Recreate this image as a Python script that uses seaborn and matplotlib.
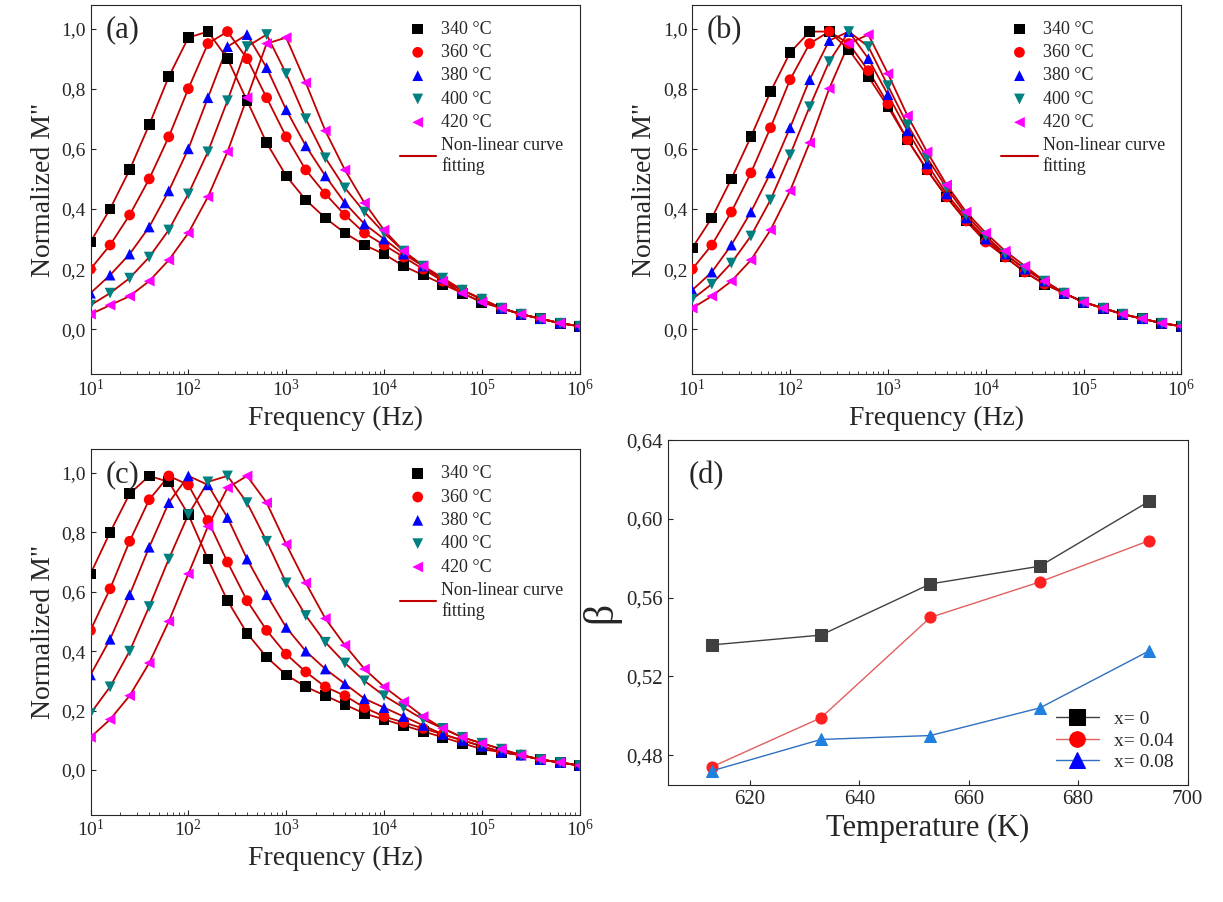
import numpy as np
import pandas as pd
import seaborn as sns
import matplotlib.pyplot as plt
from matplotlib.ticker import FuncFormatter, NullFormatter

sns.set_style("ticks")
plt.rcParams['font.family'] = ['Liberation Serif', 'DejaVu Serif']
plt.rcParams['mathtext.fontset'] = 'stix'

# log10 frequency grid of the read-off points
log_f = [1.0, 1.2, 1.4, 1.6, 1.8, 2.0, 2.2, 2.4, 2.6, 2.8, 3.0, 3.2, 3.4,
         3.6, 3.8, 4.0, 4.2, 4.4, 4.6, 4.8, 5.0, 5.2, 5.4, 5.6, 5.8, 6.0]
temps = ['340 °C', '360 °C', '380 °C', '400 °C', '420 °C']

a_340 = [0.29, 0.40, 0.53, 0.68, 0.84, 0.97, 0.99, 0.90, 0.76, 0.62, 0.51, 0.43, 0.37, 0.32, 0.28, 0.25, 0.21, 0.18, 0.15, 0.12, 0.09, 0.07, 0.05, 0.035, 0.02, 0.01]
a_360 = [0.20, 0.28, 0.38, 0.50, 0.64, 0.80, 0.95, 0.99, 0.90, 0.77, 0.64, 0.53, 0.45, 0.38, 0.32, 0.28, 0.24, 0.20, 0.16, 0.13, 0.10, 0.07, 0.05, 0.035, 0.02, 0.01]
a_380 = [0.12, 0.18, 0.25, 0.34, 0.46, 0.60, 0.77, 0.94, 0.98, 0.87, 0.73, 0.61, 0.51, 0.42, 0.35, 0.30, 0.25, 0.21, 0.17, 0.13, 0.10, 0.07, 0.05, 0.035, 0.02, 0.01]
a_400 = [0.08, 0.12, 0.17, 0.24, 0.33, 0.45, 0.59, 0.76, 0.94, 0.98, 0.85, 0.70, 0.57, 0.47, 0.39, 0.32, 0.26, 0.21, 0.17, 0.13, 0.10, 0.07, 0.05, 0.035, 0.02, 0.01]
a_420 = [0.05, 0.08, 0.11, 0.16, 0.23, 0.32, 0.44, 0.59, 0.77, 0.95, 0.97, 0.82, 0.66, 0.53, 0.42, 0.33, 0.26, 0.21, 0.16, 0.12, 0.09, 0.07, 0.05, 0.035, 0.02, 0.01]

b_340 = [0.27, 0.37, 0.50, 0.64, 0.79, 0.92, 0.99, 0.99, 0.93, 0.84, 0.74, 0.63, 0.53, 0.44, 0.36, 0.30, 0.24, 0.19, 0.15, 0.12, 0.09, 0.07, 0.05, 0.035, 0.02, 0.01]
b_360 = [0.20, 0.28, 0.39, 0.52, 0.67, 0.83, 0.95, 0.99, 0.95, 0.86, 0.75, 0.63, 0.53, 0.44, 0.36, 0.29, 0.24, 0.19, 0.15, 0.12, 0.09, 0.07, 0.05, 0.035, 0.02, 0.01]
b_380 = [0.13, 0.19, 0.28, 0.39, 0.52, 0.67, 0.83, 0.96, 0.99, 0.90, 0.78, 0.66, 0.55, 0.45, 0.37, 0.30, 0.25, 0.20, 0.16, 0.12, 0.09, 0.07, 0.05, 0.035, 0.02, 0.01]
b_400 = [0.10, 0.15, 0.22, 0.31, 0.43, 0.58, 0.74, 0.89, 0.99, 0.94, 0.81, 0.68, 0.57, 0.47, 0.38, 0.31, 0.25, 0.20, 0.16, 0.12, 0.09, 0.07, 0.05, 0.035, 0.02, 0.01]
b_420 = [0.07, 0.11, 0.16, 0.23, 0.33, 0.46, 0.62, 0.80, 0.95, 0.98, 0.85, 0.71, 0.59, 0.48, 0.39, 0.32, 0.26, 0.21, 0.16, 0.12, 0.09, 0.07, 0.05, 0.035, 0.02, 0.01]

c_340 = [0.66, 0.80, 0.93, 0.99, 0.97, 0.86, 0.71, 0.57, 0.46, 0.38, 0.32, 0.28, 0.25, 0.22, 0.19, 0.17, 0.15, 0.13, 0.11, 0.09, 0.07, 0.06, 0.05, 0.035, 0.025, 0.015]
c_360 = [0.47, 0.61, 0.77, 0.91, 0.99, 0.96, 0.84, 0.70, 0.57, 0.47, 0.39, 0.33, 0.28, 0.25, 0.21, 0.18, 0.16, 0.14, 0.12, 0.10, 0.08, 0.06, 0.05, 0.035, 0.025, 0.015]
c_380 = [0.32, 0.44, 0.59, 0.75, 0.90, 0.99, 0.96, 0.85, 0.71, 0.59, 0.48, 0.40, 0.34, 0.29, 0.24, 0.21, 0.18, 0.15, 0.12, 0.10, 0.08, 0.06, 0.05, 0.035, 0.025, 0.015]
c_400 = [0.19, 0.28, 0.40, 0.55, 0.71, 0.86, 0.97, 0.99, 0.90, 0.77, 0.63, 0.52, 0.43, 0.36, 0.30, 0.25, 0.21, 0.17, 0.14, 0.11, 0.09, 0.07, 0.05, 0.035, 0.025, 0.015]
c_420 = [0.11, 0.17, 0.25, 0.36, 0.50, 0.66, 0.82, 0.95, 0.99, 0.90, 0.76, 0.63, 0.51, 0.42, 0.34, 0.28, 0.23, 0.18, 0.14, 0.11, 0.09, 0.07, 0.05, 0.035, 0.025, 0.015]

temp_K = [613, 633, 653, 673, 693]
beta_x0 = [0.536, 0.541, 0.567, 0.576, 0.609]
beta_x004 = [0.474, 0.499, 0.550, 0.568, 0.589]
beta_x008 = [0.472, 0.488, 0.490, 0.504, 0.533]

colors = ['black', '#ff0000', '#0000ff', '#008080', '#ff00ff']
markers = ['s', 'o', '^', 'v', '<']
comma = FuncFormatter(lambda v, p: f'{v:.1f}'.replace('.', ','))
comma2 = FuncFormatter(lambda v, p: f'{v:.2f}'.replace('.', ','))

fig = plt.figure(figsize=(12.23, 9.02), dpi=100)
pos = {'a': [0.074, 0.585, 0.40, 0.41], 'b': [0.566, 0.585, 0.40, 0.41],
       'c': [0.074, 0.097, 0.40, 0.405]}
panels = {'a': [a_340, a_360, a_380, a_400, a_420],
          'b': [b_340, b_360, b_380, b_400, b_420],
          'c': [c_340, c_360, c_380, c_400, c_420]}
freq = 10 ** np.array(log_f)

for key, series in panels.items():
    ax = fig.add_axes(pos[key])
    for s in series:
        ax.plot(freq, s, color='#c00000', lw=1.3, zorder=2)
    for s, t, c, m in zip(series, temps, colors, markers):
        df = pd.DataFrame({'f': freq, 'm': s})
        sns.scatterplot(data=df, x='f', y='m', ax=ax, color=c, marker=m, s=60,
                        edgecolor='none', label=t, zorder=3)
    ax.plot([], [], color='#c00000', lw=1.5, label='Non-linear curve\nfitting')
    ax.set_xscale('log')
    ax.set_xlim(10, 1e6)
    ax.set_ylim(-0.15, 1.08)
    ax.set_yticks([0, 0.2, 0.4, 0.6, 0.8, 1.0])
    ax.yaxis.set_major_formatter(comma)
    ax.xaxis.set_minor_formatter(NullFormatter())
    ax.tick_params(direction='in', labelsize=14)
    ax.tick_params(which='minor', direction='in')
    ax.set_xlabel('Frequency (Hz)', fontsize=20)
    ax.set_ylabel('Normalized M"', fontsize=20)
    ax.text(0.03, 0.97, f'({key})', transform=ax.transAxes, fontsize=22, va='top')
    ax.legend(loc='upper right', frameon=False, fontsize=13, handletextpad=0.3,
              bbox_to_anchor=(1.0, 1.0), labelspacing=0.35)

ax = fig.add_axes([0.546, 0.13, 0.425, 0.382])
for y, c, mc, m, lab in [(beta_x0, '#404040', '#404040', 's', 'x= 0'),
                         (beta_x004, '#e06060', '#ff2020', 'o', 'x= 0.04'),
                         (beta_x008, '#3070c0', '#2080e0', '^', 'x= 0.08')]:
    df = pd.DataFrame({'T': temp_K, 'b': y})
    sns.lineplot(data=df, x='T', y='b', ax=ax, color=c, lw=1, marker=m,
                 markersize=8, markerfacecolor=mc, markeredgecolor=mc, label=lab)
ax.set_xlim(605, 700)
ax.set_ylim(0.465, 0.64)
ax.set_yticks([0.48, 0.52, 0.56, 0.60, 0.64])
ax.yaxis.set_major_formatter(comma2)
ax.tick_params(direction='in', labelsize=15)
ax.set_xlabel('Temperature (K)', fontsize=22)
ax.set_ylabel('β', fontsize=30)
ax.text(0.04, 0.94, '(d)', transform=ax.transAxes, fontsize=22, va='top')
leg = ax.legend(loc='lower right', fontsize=14, frameon=False, markerscale=1.4,
                handlelength=2.2, labelspacing=0.2, borderaxespad=0.3)
for h, fc in zip(leg.legend_handles, ['black', '#ff0000', '#0000ff']):
    h.set_markerfacecolor(fc)
    h.set_markeredgecolor(fc)

fig.savefig('out.png', dpi=100)
